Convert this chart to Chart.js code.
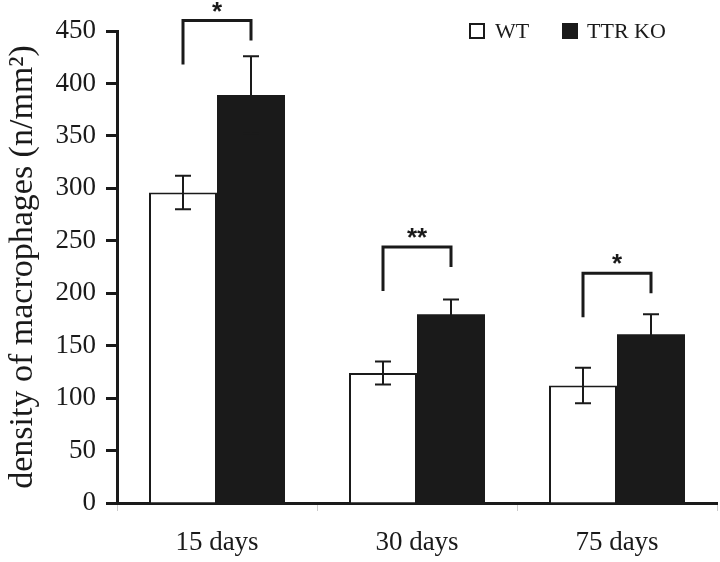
<!DOCTYPE html>
<html>
<head>
<meta charset="utf-8">
<script src="https://cdn.jsdelivr.net/npm/chart.js@4/dist/chart.umd.min.js"></script>
<style>
  html, body { margin: 0; padding: 0; background: #fff; }
  #wrap { width: 720px; height: 562px; }
</style>
</head>
<body>
<div id="wrap"><canvas id="c" width="720" height="562"></canvas></div>
<script>
// ---- data ----
const categories = ['15 days', '30 days', '75 days'];
const seriesNames = ['WT', 'TTR KO'];
const wtValues = [296, 124, 112];
const koValues = [389, 180, 161];
const wtErrors = [16, 11, 17];
const koErrors = [37, 14, 19];
const yTicks = [0, 50, 100, 150, 200, 250, 300, 350, 400, 450];
// significance brackets (values on y scale)
const bracketTop = [460, 244, 219];
const bracketLeftEnd = [418, 202, 177];
const bracketRightEnd = [441, 225, 200];
const bracketStars = ['*', '**', '*'];

const INK = '#1a1a1a';
const SERIF = "'Liberation Serif', 'Times New Roman', serif";

const errorBarPlugin = {
  id: 'errorBars',
  afterDatasetsDraw(chart) {
    const ctx = chart.ctx;
    const y = chart.scales.y;
    const errs = [wtErrors, koErrors];
    ctx.save();
    ctx.strokeStyle = INK;
    ctx.lineWidth = 2;
    chart.data.datasets.forEach((ds, di) => {
      const meta = chart.getDatasetMeta(di);
      meta.data.forEach((bar, j) => {
        const v = ds.data[j], e = errs[di][j];
        const x = bar.x;
        const yt = y.getPixelForValue(v + e);
        const yb = y.getPixelForValue(v - e);
        const cap = 8;
        ctx.beginPath();
        ctx.moveTo(x, yt); ctx.lineTo(x, yb);
        ctx.moveTo(x - cap, yt); ctx.lineTo(x + cap, yt);
        ctx.moveTo(x - cap, yb); ctx.lineTo(x + cap, yb);
        ctx.stroke();
      });
    });
    ctx.restore();
  }
};

const bracketPlugin = {
  id: 'brackets',
  afterDraw(chart) {
    const ctx = chart.ctx;
    const y = chart.scales.y;
    const m0 = chart.getDatasetMeta(0), m1 = chart.getDatasetMeta(1);
    ctx.save();
    ctx.strokeStyle = INK;
    ctx.fillStyle = INK;
    ctx.lineWidth = 3;
    ctx.lineJoin = 'miter';
    categories.forEach((c, j) => {
      const x1 = m0.data[j].x, x2 = m1.data[j].x;
      const yt = y.getPixelForValue(bracketTop[j]);
      ctx.beginPath();
      ctx.moveTo(x1, y.getPixelForValue(bracketLeftEnd[j]));
      ctx.lineTo(x1, yt);
      ctx.lineTo(x2, yt);
      ctx.lineTo(x2, y.getPixelForValue(bracketRightEnd[j]));
      ctx.stroke();
      ctx.font = "bold 26px 'Liberation Sans', Arial, sans-serif";
      ctx.textAlign = 'center';
      ctx.textBaseline = 'alphabetic';
      ctx.fillText(bracketStars[j], (x1 + x2) / 2, yt - 1);
    });
    ctx.restore();
  }
};

const legendPlugin = {
  id: 'customLegend',
  afterDraw(chart) {
    const ctx = chart.ctx;
    ctx.save();
    const items = [
      { x: 470, tx: 495 },
      { x: 563, tx: 587 }
    ];
    const cy = 31;
    ctx.font = '22px ' + SERIF;
    ctx.textBaseline = 'middle';
    ctx.textAlign = 'left';
    chart.data.datasets.forEach((ds, i) => {
      const it = items[i];
      ctx.fillStyle = ds.backgroundColor;
      ctx.fillRect(it.x, cy - 7, 14, 14);
      ctx.strokeStyle = INK;
      ctx.lineWidth = 2;
      ctx.strokeRect(it.x, cy - 7, 14, 14);
      ctx.fillStyle = INK;
      ctx.fillText(ds.label, it.tx, cy + 1);
    });
    ctx.restore();
  }
};

new Chart(document.getElementById('c'), {
  type: 'bar',
  data: {
    labels: categories,
    datasets: [
      { label: seriesNames[0], data: wtValues, backgroundColor: '#ffffff', borderColor: INK, borderWidth: 2, borderSkipped: 'bottom' },
      { label: seriesNames[1], data: koValues, backgroundColor: INK, borderColor: INK, borderWidth: 0 }
    ]
  },
  options: {
    responsive: false,
    animation: false,
    devicePixelRatio: 1,
    layout: { padding: { top: 31, right: 3, left: 0, bottom: 0 } },
    datasets: { bar: { categoryPercentage: 0.68, barPercentage: 1.0 } },
    plugins: {
      legend: { display: false },
      tooltip: { enabled: false }
    },
    scales: {
      x: {
        grid: { display: true, drawOnChartArea: false, offset: true, color: '#cccccc', tickLength: 8, tickWidth: 1 },
        border: { display: true, color: INK, width: 3 },
        ticks: { color: INK, font: { family: SERIF, size: 27 }, padding: 16 },
        afterFit(s) { s.height = 59; }
      },
      y: {
        min: 0, max: 450,
        afterBuildTicks(s) { s.ticks = yTicks.map(v => ({ value: v })); },
        grid: { display: true, drawOnChartArea: false, tickLength: 11, tickWidth: 3, tickColor: INK },
        border: { display: true, color: INK, width: 3 },
        ticks: { color: INK, font: { family: SERIF, size: 27 }, padding: 10 },
        title: { display: true, text: 'density of macrophages (n/mm²)', color: INK, font: { family: SERIF, size: 34 }, padding: { top: 3, bottom: 0 } },
        afterFit(s) { s.width = 117; }
      }
    }
  },
  plugins: [errorBarPlugin, bracketPlugin, legendPlugin]
});
</script>
</body>
</html>
